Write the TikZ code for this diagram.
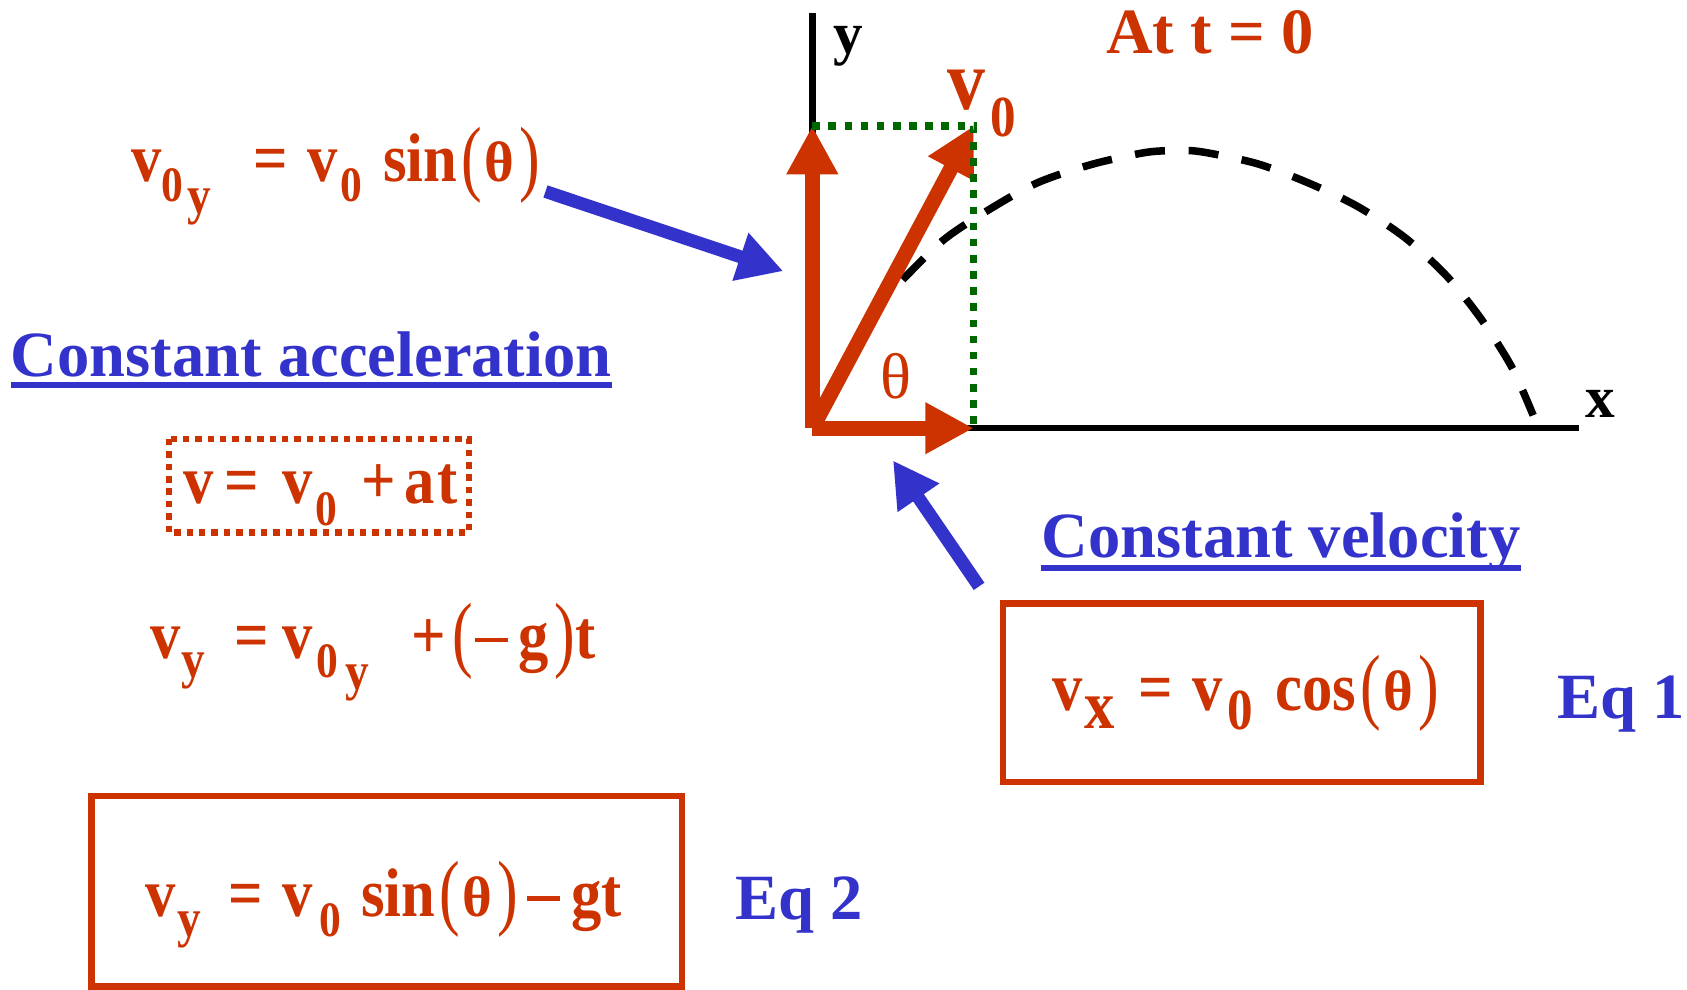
\documentclass[tikz,border=0pt]{standalone}
\usepackage{graphicx}
\usepackage{fontspec}
\setmainfont{Liberation Serif}
\newfontfamily\eqf[FakeStretch=0.88]{Liberation Serif}
\usetikzlibrary{arrows.meta}
\definecolor{myred}{RGB}{204,51,0}
\definecolor{myblue}{RGB}{51,51,204}
\definecolor{mygreen}{RGB}{0,102,0}
\newcommand\fs[1]{\fontsize{#1}{#1}\selectfont}
\newcommand\lo[3]{\raisebox{-#1pt}{\fs{#2}#3}}
\newcommand\lpar{{\normalfont\raisebox{-3pt}{\scalebox{0.9}[1.22]{(}}}}
\newcommand\rpar{{\normalfont\raisebox{-3pt}{\scalebox{0.9}[1.22]{)}}}}
\newcommand\thb{{\normalfont\bfseries\fs{53}θ}}
\newcommand\argth{\hspace{4pt}\lpar\hspace{2pt}\thb\hspace{5pt}\rpar}
\newcommand\mns{\rule[15pt]{31pt}{4pt}}
\begin{document}
\begin{tikzpicture}[x=1pt,y=-1pt,
  eq/.style={anchor=base west, inner sep=0pt, text=myred, font=\eqf\fs{64}\bfseries},
  blab/.style={anchor=base west, inner sep=0pt, text=myblue, font=\fs{60}\bfseries},
  axlab/.style={anchor=base, inner sep=0pt, text=black, font=\fs{55}\bfseries},
  ax/.style={line width=6pt, black},
  rarrow/.style={line width=14pt, myred, -{Triangle[length=45pt,width=45pt]}},
  barrow/.style={line width=12pt, myblue, -{Triangle[length=42pt,width=44pt]}},
  gdot/.style={line width=7pt, mygreen, dash pattern=on 7pt off 8pt},
  traj/.style={line width=7pt, black, dash pattern=on 28pt off 22pt},
  eqbox/.style={draw=myred, line width=6pt},
  dotbox/.style={draw=myred, line width=6pt, dash pattern=on 6pt off 5.5pt},
  uline/.style={line width=5pt, myblue},
]
\useasboundingbox (0,0) rectangle (1568,920);

% axes
\coordinate (O) at (755,398);
\coordinate (ytop) at (755,12);
\coordinate (xend) at (1468,398);
\coordinate (V) at (905,117);
\coordinate (Vy) at (755,117);
\coordinate (Vx) at (905,398);
\draw[ax] (O) -- (ytop);
\draw[ax] (O) -- (xend);
\node[axlab] (ylab) at (788,50) {y};
\node[axlab] (xlab) at (1487,388) {x};

% trajectory
\draw[traj] plot[smooth] coordinates {(839,260) (877,223) (919,195) (964,170) (1014,153) (1063,142) (1090,140) (1116,141) (1168,152) (1216,170) (1262,192) (1306,221) (1345,257) (1377,297) (1405,341) (1425,386)};

% velocity components
\draw[rarrow] (O) -- (Vy);
\draw[rarrow] (O) -- (Vx);
\draw[rarrow] (O) -- (V);
\draw[gdot] (Vy) -- (V) -- (Vx);

\node[eq, font=\eqf\fs{80}\bfseries] (vlab) at (880,102) {v\hspace{5pt}\lo{25}{54}{0}};
\node[eq, anchor=center, font=\fs{60}] (theta) at (833,350) {θ};
\node[eq, font=\fs{60}\bfseries] (att) at (1028,50) {At t = 0};

% left equations
\node[eq] (eqA) at (122,169) {v\lo{18}{46}{0}\hspace{4pt}\lo{29}{50}{y}\hspace{39pt}=\hspace{18pt}v\hspace{3pt}\lo{18}{46}{0}\hspace{19pt}sin\argth};
\node[blab] (ca) at (10,350) {Constant acceleration};
\draw[uline] ([yshift=-8pt]ca.base west) -- ([yshift=-8pt]ca.base east);
\node[eq] (eqB) at (170,468) {v\hspace{10pt}=\hspace{22pt}v\hspace{3pt}\lo{20}{46}{0}\hspace{22pt}+\hspace{8pt}a\hspace{3pt}t};
\draw[dotbox] (157,408) rectangle (436,495);
\node[eq] (eqC) at (140,612) {v\lo{18}{50}{y}\hspace{28pt}=\hspace{12pt}v\hspace{4pt}\lo{18}{46}{0}\hspace{6pt}\lo{29}{50}{y}\hspace{40pt}+\hspace{6pt}\lpar\hspace{1pt}\mns\hspace{10pt}g\hspace{5pt}\rpar t};
\draw[eqbox] (85,740) rectangle (634,917);
\node[eq] (eqD) at (135,852) {v\hspace{2pt}\lo{18}{50}{y}\hspace{25pt}=\hspace{18pt}v\hspace{6pt}\lo{18}{46}{0}\hspace{19pt}sin\argth\hspace{8pt}\mns\hspace{10pt}gt};
\node[blab] (eq2) at (683,855) {Eq 2};

% right equations
\node[blab] (cv) at (968,518) {Constant velocity};
\draw[uline] ([yshift=-10pt]cv.base west) -- ([yshift=-10pt]cv.base east);
\draw[eqbox] (932,561) rectangle (1376,727);
\node[eq] (eqE) at (978,660) {v\hspace{2pt}\lo{17}{64}{x}\hspace{22pt}=\hspace{18pt}v\hspace{4pt}\lo{18}{54}{0}\hspace{21pt}cos\argth};
\node[blab] (eq1) at (1447,668) {Eq 1};

% pointer arrows
\coordinate (p1s) at (507,178);
\coordinate (p1e) at (728,252);
\coordinate (p2s) at (910,545);
\coordinate (p2e) at (830,428);
\draw[barrow] (p1s) -- (p1e);
\draw[barrow] (p2s) -- (p2e);
\end{tikzpicture}
\end{document}
